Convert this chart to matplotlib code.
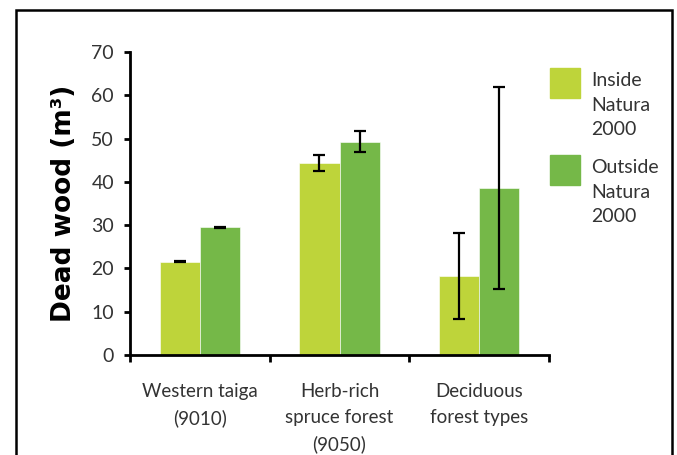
import matplotlib.pyplot as plt
import numpy as np
from matplotlib.patches import Rectangle

categories = ["Western taiga\n(9010)", "Herb-rich\nspruce forest\n(9050)", "Deciduous\nforest types"]
inside = [21.6, 44.3, 18.2]
inside_err = [0.15, 1.9, 9.9]
outside = [29.5, 49.3, 38.6]
outside_err = [0.15, 2.5, 23.3]
series_labels = ["Inside\nNatura\n2000", "Outside\nNatura\n2000"]
yticks = [0, 10, 20, 30, 40, 50, 60, 70]

inside_color = "#BED43A"
outside_color = "#75B848"
text_color = "#333333"

plt.rcParams["font.family"] = ["Lato", "DejaVu Sans"]

fig = plt.figure(figsize=(6.77, 4.55), dpi=100)
ax = fig.add_axes([130 / 677, 100 / 455, 419 / 677, 303 / 455])

x = np.arange(len(categories))
w = 0.287
err_kw = dict(ecolor="black", elinewidth=1.6, capsize=4, capthick=1.6)
b1 = ax.bar(x - w / 2, inside, w, yerr=inside_err, color=inside_color,
            edgecolor="white", linewidth=0.4, error_kw=err_kw)
b2 = ax.bar(x + w / 2, outside, w, yerr=outside_err, color=outside_color,
            edgecolor="white", linewidth=0.4, error_kw=err_kw)

ax.set_xlim(-0.5, len(categories) - 0.5)
ax.set_ylim(0, 70)
ax.set_yticks(yticks)
ax.set_yticklabels([str(v) for v in yticks], fontsize=14, color=text_color)

# category labels centred, ticks on the boundaries
ax.set_xticks(x)
ax.set_xticklabels(categories, fontsize=13.5, color=text_color, linespacing=1.65)
ax.set_xticks(np.arange(len(categories) + 1) - 0.5, minor=True)
ax.tick_params(axis="x", which="major", length=0, pad=20)
ax.tick_params(axis="x", which="minor", length=5, width=2, direction="out")
ax.tick_params(axis="y", length=4.5, width=2, pad=7)

for side in ["top", "right"]:
    ax.spines[side].set_visible(False)
for side in ["left", "bottom"]:
    ax.spines[side].set_linewidth(2)

ax.set_ylabel("Dead wood (m³)", fontsize=19, fontweight="bold",
              family="DejaVu Sans", color="black", labelpad=10)

# legend: square swatch next to a three-line label
for i, (lab, col) in enumerate(zip(series_labels, [inside_color, outside_color])):
    top = 68 + i * 87
    fig.patches.append(Rectangle((550 / 677, 1 - (top + 30) / 455), 30 / 677, 30 / 455,
                                 transform=fig.transFigure, color=col))
    fig.text(591 / 677, 1 - (top + 4) / 455, lab, fontsize=14, color=text_color,
             va="top", ha="left", linespacing=1.55)

# outer frame
fig.patches.append(Rectangle((16 / 677, -0.1), (672 - 16) / 677, 1.1 - 10 / 455,
                             transform=fig.transFigure, fill=False,
                             edgecolor="black", linewidth=1.8))

fig.savefig("out.png", dpi=100)
